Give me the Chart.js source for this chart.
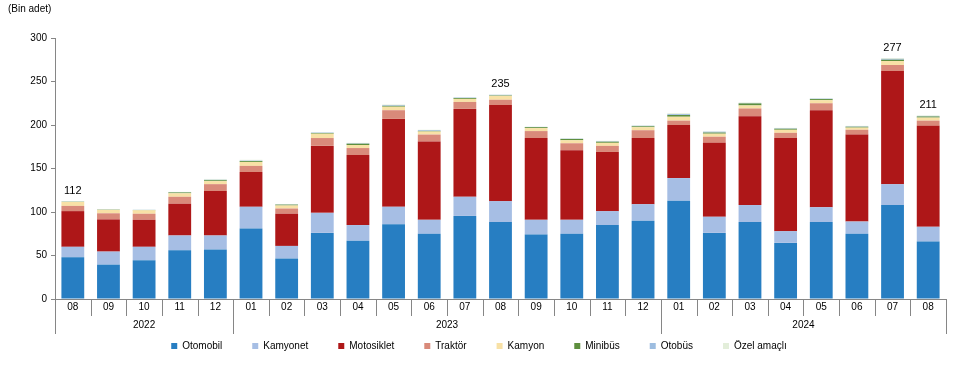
<!DOCTYPE html>
<html>
<head>
<meta charset="utf-8">
<script src="https://cdn.jsdelivr.net/npm/chart.js@4"></script>
<style>
	html, body { margin: 0; padding: 0; background: #fff; }
	.chart-wrapper { position: relative; width: 958px; height: 369px; }
	.unit { position: absolute; left: 8px; top: 3px; font: 10px "Liberation Sans", Arial, sans-serif; color: #000; }
</style>
</head>
<body>
<div class="chart-wrapper">
	<div class="unit">(Bin adet)</div>
	<canvas id="vehicle-chart" width="958" height="369"></canvas>
</div>
<script>
var months = ['08', '09', '10', '11', '12', '01', '02', '03', '04', '05', '06', '07', '08', '09', '10', '11', '12', '01', '02', '03', '04', '05', '06', '07', '08'];
var yearNames = ['2022', '2023', '2024'];
var yearCounts = [5, 12, 8];

var otomobil = [48, 39.5, 44.5, 56, 57, 81, 46.5, 76, 67, 86, 75, 95.5, 88.5, 74, 75, 85, 90, 113, 76, 88.5, 64.5, 88.5, 75, 108, 66];
var kamyonet = [12, 15, 15.5, 17, 16, 25, 14.5, 23, 18, 20, 16, 22, 24, 17, 16, 16, 19, 26, 18.5, 19.5, 13.5, 17, 14, 24, 17];
var motosiklet = [41, 37, 31, 36.5, 51, 40, 37, 77, 80.5, 101, 90, 101, 110.5, 94, 80, 68, 76, 61, 85, 102, 107, 111.5, 100, 130, 116];
var traktor = [6, 7, 7, 8, 8, 7, 6, 9, 8, 10, 8, 8, 6, 8, 8, 7, 9, 5, 7, 9, 6, 8, 5.5, 7, 6];
var kamyon = [4.5, 4, 4, 4, 3.5, 4.5, 3.5, 5, 3.5, 4, 3.5, 3.5, 4.5, 3.5, 3.5, 3.5, 3.5, 4.5, 3.5, 3.5, 3.5, 3.5, 2.5, 4.5, 3.5];
var minibus = [0.3, 0.3, 0.3, 1, 1, 1, 1, 0.8, 1.5, 1, 0.7, 1, 0.5, 1, 1.5, 1.3, 1, 2, 1.3, 2.3, 1.2, 1.3, 1, 1.5, 1.3];
var otobus = [0.1, 0.2, 0.2, 0.3, 0.5, 0.5, 0.3, 0.5, 0.5, 0.8, 0.8, 0.5, 0.7, 0.3, 0.3, 0.5, 0.6, 1, 1, 0.5, 0.5, 0.5, 0.5, 1, 0.6];
var ozelAmacli = [0.1, 0.3, 0.3, 0.3, 1, 1, 0.3, 0.5, 0.5, 0.7, 0.5, 0.5, 0.3, 0.2, 0.2, 0.5, 0.5, 1, 0.5, 0.6, 0.5, 0.5, 0.5, 1, 0.6];

// bars that get a total on top
var totalLabelIndex = [0, 12, 23, 24];

var fontFamily = '"Liberation Sans", Arial, sans-serif';
var axisColor = '#868686';

Chart.defaults.font.family = fontFamily;
Chart.defaults.font.size = 10;
Chart.defaults.color = '#000';

function makeSet(label, data, color) {
	return {
		label: label,
		data: data,
		backgroundColor: color,
		borderWidth: 0,
		barPercentage: 0.64,
		categoryPercentage: 1.0
	};
}

var data = {
	labels: months,
	datasets: [
		makeSet('Otomobil', otomobil, '#277EC2'),
		makeSet('Kamyonet', kamyonet, '#A6BEE4'),
		makeSet('Motosiklet', motosiklet, '#AE1718'),
		makeSet('Traktör', traktor, '#D98A7A'),
		makeSet('Kamyon', kamyon, '#F8E1A6'),
		makeSet('Minibüs', minibus, '#5E8F3E'),
		makeSet('Otobüs', otobus, '#9DBDE0'),
		makeSet('Özel amaçlı', ozelAmacli, '#E3EEDA')
	]
};

// month separators, year row and totals
var extrasPlugin = {
	id: 'extras',
	afterDraw: function(chart) {
		var ctx = chart.ctx;
		var x = chart.scales.x;
		var area = chart.chartArea;
		var step = x.getPixelForValue(1) - x.getPixelForValue(0);
		var base = area.bottom;

		ctx.save();
		ctx.strokeStyle = axisColor;
		ctx.lineWidth = 1;

		// month separators
		for (var i = 0; i <= months.length; i++) {
			var px = Math.round(x.getPixelForValue(0) - step / 2 + i * step) + 0.5;
			ctx.beginPath();
			ctx.moveTo(px, base);
			ctx.lineTo(px, base + 17);
			ctx.stroke();
		}

		// year separators and labels
		var start = 0;
		ctx.fillStyle = '#000';
		ctx.font = '10px ' + fontFamily;
		ctx.textAlign = 'center';
		ctx.textBaseline = 'middle';
		for (var y = 0; y <= yearNames.length; y++) {
			var sx = Math.round(x.getPixelForValue(0) - step / 2 + start * step) + 0.5;
			ctx.beginPath();
			ctx.moveTo(sx, base);
			ctx.lineTo(sx, base + 35);
			ctx.stroke();
			if (y < yearNames.length) {
				var mid = x.getPixelForValue(start + (yearCounts[y] - 1) / 2);
				ctx.fillText(yearNames[y], mid, base + 26);
				start += yearCounts[y];
			}
		}

		// totals above chosen bars
		ctx.textBaseline = 'bottom';
		ctx.font = '11px ' + fontFamily;
		totalLabelIndex.forEach(function(idx) {
			var sum = 0;
			chart.data.datasets.forEach(function(ds) { sum += ds.data[idx]; });
			var py = chart.scales.y.getPixelForValue(sum);
			ctx.fillText(Math.round(sum), x.getPixelForValue(idx), py - 5);
		});
		ctx.restore();
	}
};

var options = {
	responsive: false,
	animation: false,
	layout: {
		padding: { top: 38, right: 12, left: 12, bottom: 8 }
	},
	plugins: {
		legend: {
			position: 'bottom',
			labels: {
				boxWidth: 6,
				boxHeight: 6,
				padding: 30,
				font: { size: 10 }
			}
		},
		tooltip: { enabled: false }
	},
	scales: {
		x: {
			stacked: true,
			grid: { display: false, drawTicks: false },
			border: { display: true, color: axisColor },
			ticks: { padding: 2, maxRotation: 0, autoSkip: false },
			afterFit: function(scale) { scale.height = 12; }
		},
		y: {
			stacked: true,
			min: 0,
			max: 300,
			grid: {
				drawOnChartArea: false,
				drawTicks: true,
				tickLength: 4,
				color: axisColor
			},
			border: { display: true, color: axisColor },
			ticks: { stepSize: 50, padding: 4 },
			afterFit: function(scale) { scale.width = 43; }
		}
	}
};

var vehicleChart = new Chart(document.getElementById('vehicle-chart'), {
	type: 'bar',
	data: data,
	options: options,
	plugins: [extrasPlugin]
});
</script>
</body>
</html>
